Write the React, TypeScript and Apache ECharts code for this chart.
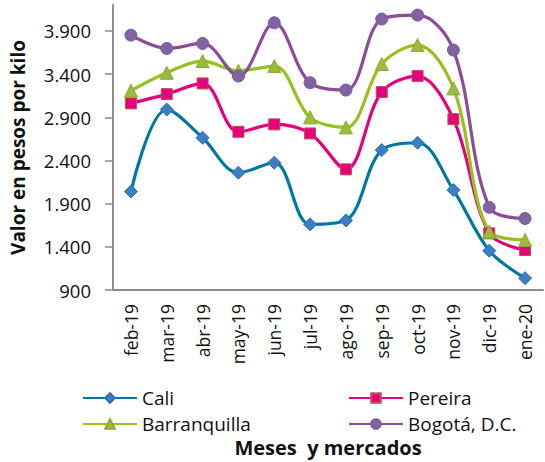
import React, { useEffect, useRef } from "react";
import * as echarts from "echarts";

const categories = ["feb-19", "mar-19", "abr-19", "may-19", "jun-19", "jul-19", "ago-19", "sep-19", "oct-19", "nov-19", "dic-19", "ene-20"];
const cali = [2040, 2990, 2663, 2258, 2374, 1660, 1706, 2520, 2605, 2057, 1355, 1037];
const pereira = [3061, 3168, 3292, 2732, 2818, 2713, 2297, 3192, 3377, 2879, 1556, 1363];
const barranquilla = [3207, 3415, 3550, 3438, 3493, 2899, 2783, 3516, 3736, 3234, 1575, 1480];
const bogota = [3851, 3697, 3755, 3377, 3994, 3300, 3215, 4037, 4083, 3678, 1857, 1728];
const yTicks = [900, 1400, 1900, 2400, 2900, 3400, 3900];

const FONT = "'Open Sans', 'Noto Sans', sans-serif";

function fmt(v: number) {
  return String(v).replace(/\B(?=(\d{3})+(?!\d))/g, ".");
}

export default function App() {
  const ref = useRef<HTMLDivElement>(null);
  useEffect(() => {
    if (!ref.current) return;
    const chart = echarts.init(ref.current, null, { renderer: "svg" });
    const mk = (name: string, data: number[], line: string, fill: string, border: string, symbol: string, size: number) => ({
      name,
      type: "line",
      data,
      smooth: 0.35,
      symbol,
      symbolSize: size,
      lineStyle: { color: line, width: 3.2 },
      itemStyle: { color: fill, borderColor: border, borderWidth: 1 },
      color: line,
    });
    const legendText = { fontSize: 19, color: "#111", fontFamily: FONT, lineHeight: 22 };
    chart.setOption({
      animation: false,
      textStyle: { fontFamily: FONT },
      grid: { left: 112, right: 2, top: 5, bottom: 172, containLabel: false },
      xAxis: {
        type: "category",
        data: categories,
        boundaryGap: true,
        axisLine: { lineStyle: { color: "#8c8c8c", width: 2 } },
        axisTick: { show: false },
        axisLabel: { rotate: 90, color: "#111", fontSize: 17.5, fontFamily: FONT, margin: 14, interval: 0 },
        name: "Meses  y mercados",
        nameLocation: "middle",
        nameGap: 147,
        nameTextStyle: { fontWeight: "bold", fontSize: 20, color: "#111", fontFamily: FONT },
      },
      yAxis: {
        type: "value",
        min: 900,
        max: 4200,
        axisLine: { show: true, lineStyle: { color: "#8c8c8c", width: 2 } },
        axisTick: { show: true, length: 8, customValues: yTicks, lineStyle: { color: "#8c8c8c", width: 1.5 } },
        axisLabel: { customValues: yTicks, color: "#111", fontSize: 18.5, fontFamily: FONT, margin: 22, formatter: (v: number) => fmt(v) },
        splitLine: { show: false },
        name: "Valor en pesos por kilo",
        nameLocation: "middle",
        nameGap: 86,
        nameRotate: 90,
        nameTextStyle: { fontWeight: "bold", fontSize: 19, color: "#111", fontFamily: FONT },
      },
      legend: [
        {
          data: ["Cali", "Barranquilla"],
          orient: "vertical",
          left: 82,
          top: 387,
          padding: 0,
          itemWidth: 54,
          itemHeight: 12,
          itemGap: 4,
          textStyle: legendText,
        },
        {
          data: ["Pereira", "Bogotá, D.C."],
          orient: "vertical",
          left: 348,
          top: 387,
          padding: 0,
          itemWidth: 54,
          itemHeight: 12,
          itemGap: 4,
          textStyle: legendText,
        },
      ],
      series: [
        mk("Cali", cali, "#00789f", "#3b7fc4", "#2f6fae", "diamond", 13),
        mk("Pereira", pereira, "#e6007e", "#e6007e", "#c0504d", "rect", 11),
        mk("Barranquilla", barranquilla, "#97c11f", "#9bbb3c", "#8aab30", "triangle", 13),
        mk("Bogotá, D.C.", bogota, "#8a4d96", "#8064a2", "#7a5c9c", "circle", 12),
      ],
    });
    return () => chart.dispose();
  }, []);
  return <div ref={ref} style={{ width: 545, height: 462, position: "absolute", left: 0, top: 0 }} />;
}
